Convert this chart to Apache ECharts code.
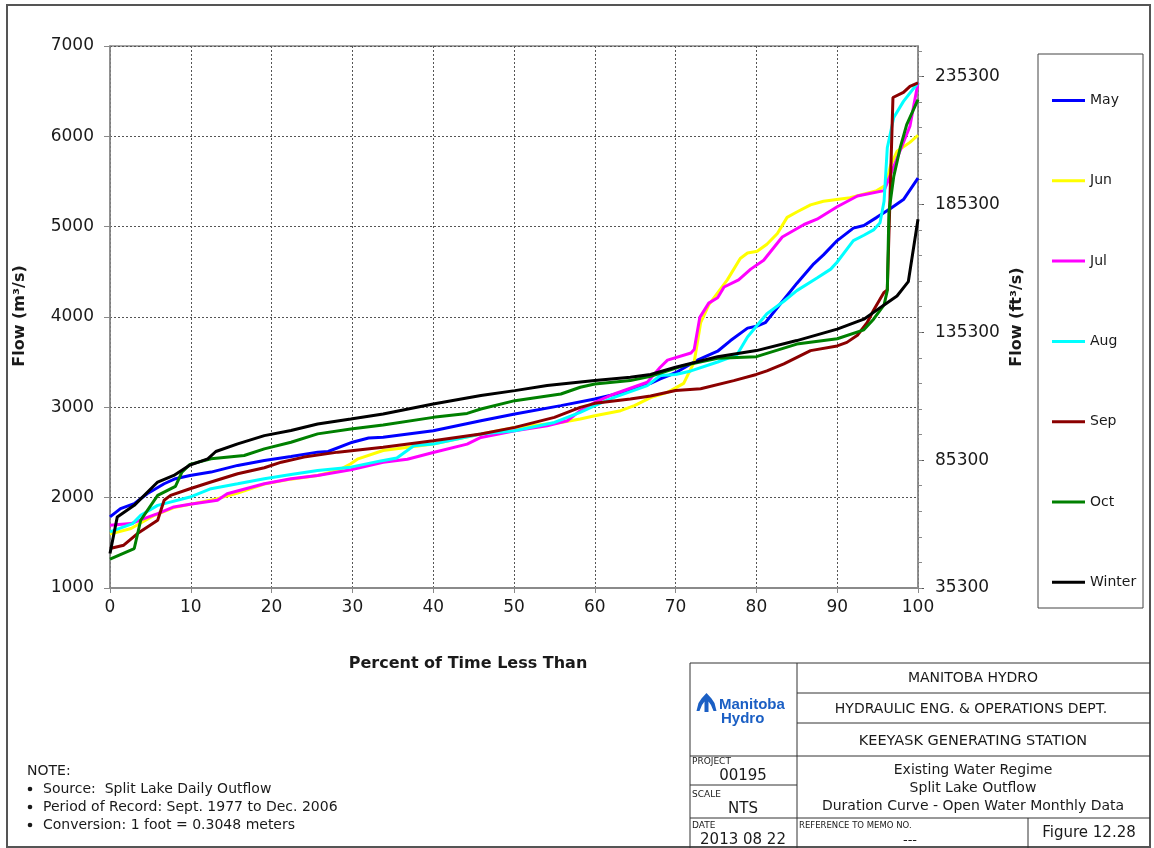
<!DOCTYPE html>
<html>
<head>
<meta charset="utf-8">
<title>Split Lake Outflow - Duration Curve</title>
<script src="https://cdn.jsdelivr.net/npm/echarts@6/dist/echarts.min.js"></script>
<style>
  html, body { margin: 0; padding: 0; background: #ffffff; }
  #chart { width: 1154px; height: 848px; }
</style>
</head>
<body>
<div id="chart"></div>
<script>
// Duration curves of Split Lake daily outflow: [percent of time less than, flow m³/s]
const seriesNames = ['May', 'Jun', 'Jul', 'Aug', 'Sep', 'Oct', 'Winter'];
const seriesColors = ['#0000ff', '#ffff00', '#ff00ff', '#00ffff', '#8b0000', '#008000', '#000000'];

const may = [[0,1787],[1.3,1879],[3,1934],[4.6,2044],[6.7,2154],[8.1,2210],[9.9,2246],[12.5,2283],[15.8,2357],[19.1,2412],[22.4,2456],[25.7,2504],[27,2511],[30,2614],[32,2660],[33.8,2670],[40,2741],[45.9,2852],[50.1,2926],[55.8,3019],[60,3093],[64.4,3185],[66.9,3265],[68.1,3315],[70,3383],[72.7,3522],[75.2,3621],[76.8,3739],[78.9,3877],[80,3897],[81.1,3937],[83.4,4194],[85,4372],[87.1,4589],[88.3,4688],[90,4846],[92,4984],[93.3,5012],[94.9,5103],[96.6,5202],[98.2,5300],[100,5538]];

const jun = [[0,1596],[2.6,1658],[5.5,1805],[7.9,1890],[9.9,1926],[13.3,1989],[15.8,2050],[19.1,2150],[22.4,2205],[25.7,2245],[28.2,2300],[29.8,2375],[30.7,2430],[33.8,2522],[40,2593],[45.9,2704],[50.1,2778],[55.8,2833],[58.2,2870],[60,2907],[63.2,2963],[64.9,3019],[66.9,3107],[69,3166],[71,3265],[72.3,3502],[73.1,3937],[74.1,4134],[76.4,4411],[78,4648],[78.9,4708],[80.1,4727],[81.3,4806],[82.6,4925],[83.8,5103],[85,5162],[86.7,5241],[88.3,5281],[91.6,5320],[94.9,5399],[96,5458],[96.6,5676],[97.4,5834],[99,5933],[100,6012]];

const jul = [[0,1695],[2.6,1713],[4.2,1768],[5.9,1824],[7.9,1897],[9.9,1926],[13.3,1971],[14.5,2044],[19.1,2154],[22.4,2210],[25.7,2246],[29.8,2309],[33.8,2393],[36.8,2426],[40,2500],[44.2,2593],[45.9,2667],[50.1,2741],[54.1,2796],[56.6,2852],[58.2,2963],[60,3056],[62.4,3148],[66.5,3278],[68.1,3444],[69,3522],[71.9,3601],[72.3,3640],[73,3996],[74.1,4154],[75.2,4213],[76,4332],[77.8,4411],[79.3,4530],[80.9,4628],[83.2,4885],[85.9,5024],[87.5,5083],[90,5221],[92.5,5340],[95.8,5399],[97.4,5755],[99,6111],[100,6593]];

const aug = [[0,1621],[2.8,1713],[3.8,1805],[5.9,1915],[9.9,2007],[12.5,2099],[15.8,2154],[19.1,2210],[22.4,2257],[25.7,2301],[29.8,2338],[33.5,2407],[35.5,2440],[37.6,2574],[40,2593],[45.9,2704],[50.1,2741],[55,2833],[58.2,2944],[60,3019],[62.4,3111],[66.5,3241],[68.1,3352],[70,3364],[71.9,3403],[75.2,3502],[77.6,3581],[78.9,3779],[80,3897],[81.3,4036],[83.4,4174],[85,4292],[87.5,4431],[89.2,4530],[90,4609],[92,4846],[93.3,4905],[94.5,4964],[95.3,5043],[95.8,5281],[96.2,5874],[97,6209],[98.2,6387],[100,6593]];

const sep = [[0,1437],[1.7,1474],[3.4,1603],[5.9,1750],[6.7,1971],[7.5,2026],[9.9,2099],[12.5,2173],[15.8,2265],[19.1,2331],[21.2,2393],[24,2449],[28.2,2504],[33.8,2559],[40,2630],[45.9,2704],[50.1,2778],[55,2889],[58.2,3000],[60,3044],[64.4,3093],[66.9,3126],[70,3186],[73.1,3206],[77.2,3296],[80,3364],[81.3,3403],[83.4,3482],[86.7,3628],[90,3680],[91.2,3719],[92.5,3798],[93.7,3937],[94.5,4075],[95.8,4273],[96.2,4300],[96.9,6430],[98.2,6486],[99,6553],[100,6593]];

const oct = [[0,1320],[3,1437],[3.8,1750],[5.9,2026],[8.1,2125],[8.9,2283],[9.9,2368],[12.5,2430],[16.6,2467],[19.1,2540],[22.4,2614],[25.7,2706],[29.8,2761],[33.8,2805],[40,2889],[44.2,2933],[45.9,2981],[50.1,3074],[55.8,3148],[58.2,3222],[60,3259],[64.4,3296],[66.9,3344],[71,3462],[75.2,3542],[80,3561],[85,3700],[90,3759],[93.3,3858],[94.5,3976],[95.8,4134],[96.2,4292],[96.4,5162],[97,5557],[97.8,5874],[98.6,6130],[100,6407]];

const winter = [[0,1382],[0.9,1787],[3,1915],[5.9,2173],[7.9,2246],[9.8,2357],[12.1,2430],[13.1,2511],[15.8,2596],[19.1,2687],[22.4,2743],[25.7,2816],[29.8,2871],[33.8,2926],[40,3037],[45.9,3130],[50.1,3185],[54.1,3241],[60,3296],[64.4,3333],[66.9,3364],[70,3443],[75.2,3561],[80,3628],[85,3739],[90,3866],[93.3,3976],[95.8,4134],[97.4,4233],[98.8,4391],[100,5083]];

const seriesData = [may, jun, jul, aug, sep, oct, winter];

// Axis ranges and tick labels
const percentRange = [0, 100];
const flowRange = [1000, 7000];                       // m³/s
const CFS_PER_CMS = 35.3147;                          // 1 m³/s in ft³/s
const cfsTickLabels = [35300, 85300, 135300, 185300, 235300];
const cfsRange = [35300, Math.round(flowRange[1] * CFS_PER_CMS / 100) * 100];
const cfsMinorTicks = [];
for (let v = cfsRange[0]; v <= cfsRange[1]; v += 10000) cfsMinorTicks.push(v);

const FONT = '"DejaVu Sans", Verdana, sans-serif';
const LOGO_FONT = '"Liberation Sans", Arial, sans-serif';
const TEXT_COLOR = '#1a1a1a';
const AXIS_GREY = '#8a8a8a';
const plainNumber = function (v) { return String(v); };

function txt(x, y, text, size, opts) {
  opts = opts || {};
  return {
    type: 'text', x: x, y: y, rotation: opts.rotation || 0, z: 10,
    style: {
      text: text,
      font: (opts.bold ? 'bold ' : '') + size + 'px ' + (opts.family || FONT),
      fill: opts.color || TEXT_COLOR,
      align: opts.align || 'center', textAlign: opts.align || 'center',
      verticalAlign: 'middle', textVerticalAlign: 'middle'
    }
  };
}
function ln(x1, y1, x2, y2, w, c) {
  return { type: 'line', z: 10, shape: { x1: x1, y1: y1, x2: x2, y2: y2 },
           style: { stroke: c || '#333', lineWidth: w || 1 } };
}
function dot(cx, cy) {
  return { type: 'circle', z: 10, shape: { cx: cx, cy: cy, r: 2.3 }, style: { fill: TEXT_COLOR } };
}

const graphics = [
  // outer frame
  { type: 'rect', z: 9, shape: { x: 7, y: 5, width: 1143, height: 842 },
    style: { fill: 'none', stroke: '#555', lineWidth: 2 } },
  // legend frame
  { type: 'rect', z: 9, shape: { x: 1038, y: 54, width: 105, height: 554 },
    style: { fill: 'none', stroke: '#444', lineWidth: 1 } },
  // axis titles
  txt(20, 316, 'Flow (m³/s)', 16, { bold: true, rotation: Math.PI / 2 }),
  txt(1017, 317, 'Flow (ft³/s)', 16, { bold: true, rotation: Math.PI / 2 }),
  txt(468, 664, 'Percent of Time Less Than', 16, { bold: true }),
  // notes
  txt(27, 771, 'NOTE:', 14, { align: 'left' }),
  dot(30, 789),
  txt(43, 789, 'Source:  Split Lake Daily Outflow', 14, { align: 'left' }),
  dot(30, 807),
  txt(43, 807, 'Period of Record: Sept. 1977 to Dec. 2006', 14, { align: 'left' }),
  dot(30, 825),
  txt(43, 825, 'Conversion: 1 foot = 0.3048 meters', 14, { align: 'left' }),
  // title block lines
  ln(690, 663, 1150, 663),
  ln(690, 663, 690, 848),
  ln(797, 663, 797, 848),
  ln(797, 693, 1150, 693),
  ln(797, 723, 1150, 723),
  ln(690, 756, 1150, 756),
  ln(690, 785, 797, 785),
  ln(690, 818, 1150, 818),
  ln(1028, 818, 1028, 848),
  // title block texts
  txt(973, 678, 'MANITOBA HYDRO', 14),
  txt(971, 709, 'HYDRAULIC ENG. & OPERATIONS DEPT.', 14),
  txt(973, 741, 'KEEYASK GENERATING STATION', 14.5),
  txt(973, 770, 'Existing Water Regime', 14),
  txt(973, 788, 'Split Lake Outflow', 14),
  txt(973, 806, 'Duration Curve - Open Water Monthly Data', 14),
  txt(692, 762, 'PROJECT', 9, { align: 'left' }),
  txt(743, 776, '00195', 15),
  txt(692, 795, 'SCALE', 9, { align: 'left' }),
  txt(743, 809, 'NTS', 15),
  txt(692, 826, 'DATE', 9, { align: 'left' }),
  txt(743, 840, '2013 08 22', 15),
  txt(799, 826, 'REFERENCE TO MEMO NO.', 8.5, { align: 'left' }),
  txt(910, 841, '---', 13),
  txt(1089, 833, 'Figure 12.28', 15),
  // company mark
  { type: 'polygon', z: 10,
    shape: { points: [[706.5,693],[711.5,698.5],[714.5,703],[716.5,711],[713.5,711],[711,705],[708.5,701.5],[708.5,712],[704.5,712],[704.5,701.5],[702,705],[699.5,711],[696.5,711],[698.5,703],[701.5,698.5]] },
    style: { fill: '#1b5fc4' } },
  txt(719, 705, 'Manitoba', 15, { align: 'left', bold: true, color: '#1b5fc4', family: LOGO_FONT }),
  txt(721, 719, 'Hydro', 15, { align: 'left', bold: true, color: '#1b5fc4', family: LOGO_FONT })
];

const chart = echarts.init(document.getElementById('chart'), null, { renderer: 'canvas' });

chart.setOption({
  backgroundColor: '#ffffff',
  animation: false,
  color: seriesColors,
  textStyle: { fontFamily: FONT },
  grid: {
    left: 110, right: 236, top: 46, bottom: 260,
    show: true, borderColor: AXIS_GREY, borderWidth: 1.5, backgroundColor: 'transparent'
  },
  legend: {
    data: seriesNames,
    orient: 'vertical',
    left: 1047, top: 87.5,
    itemGap: 64.3,
    itemWidth: 33, itemHeight: 3,
    icon: 'rect',
    selectedMode: false,
    textStyle: { fontSize: 14, color: TEXT_COLOR, lineHeight: 16, fontFamily: FONT }
  },
  xAxis: {
    type: 'value', min: percentRange[0], max: percentRange[1], interval: 10,
    axisLine: { lineStyle: { color: AXIS_GREY, width: 2 } },
    axisTick: { show: true, length: 5, lineStyle: { color: AXIS_GREY } },
    axisLabel: { fontSize: 17, color: TEXT_COLOR, margin: 11, fontFamily: FONT, formatter: plainNumber },
    splitLine: { show: true, lineStyle: { color: '#555', type: [2, 2], width: 1 } }
  },
  yAxis: [
    {
      type: 'value', min: flowRange[0], max: flowRange[1], interval: 1000,
      axisLine: { show: true, lineStyle: { color: AXIS_GREY, width: 1.5 } },
      axisTick: { show: true, length: 6, lineStyle: { color: AXIS_GREY } },
      axisLabel: { fontSize: 17, color: TEXT_COLOR, margin: 16, fontFamily: FONT, formatter: plainNumber },
      splitLine: { show: true, lineStyle: { color: '#555', type: [2, 2], width: 1 } }
    },
    {
      type: 'value', position: 'right', min: cfsRange[0], max: cfsRange[1],
      axisLine: { show: true, lineStyle: { color: AXIS_GREY, width: 1.5 } },
      axisTick: { show: true, length: 6, customValues: cfsTickLabels, lineStyle: { color: '#555' } },
      axisLabel: { fontSize: 17, color: TEXT_COLOR, margin: 17, fontFamily: FONT,
                   customValues: cfsTickLabels, formatter: plainNumber },
      splitLine: { show: false }
    },
    {
      type: 'value', position: 'right', min: cfsRange[0], max: cfsRange[1],
      axisLine: { show: false },
      axisTick: { show: true, length: 4, customValues: cfsMinorTicks, lineStyle: { color: AXIS_GREY } },
      axisLabel: { show: false },
      splitLine: { show: false }
    }
  ],
  series: seriesNames.map(function (name, i) {
    return {
      name: name,
      type: 'line',
      data: seriesData[i],
      showSymbol: false,
      symbol: 'none',
      lineStyle: { width: 3, color: seriesColors[i] },
      itemStyle: { color: seriesColors[i] },
      z: 2 + i
    };
  }),
  graphic: graphics
});
</script>
</body>
</html>
